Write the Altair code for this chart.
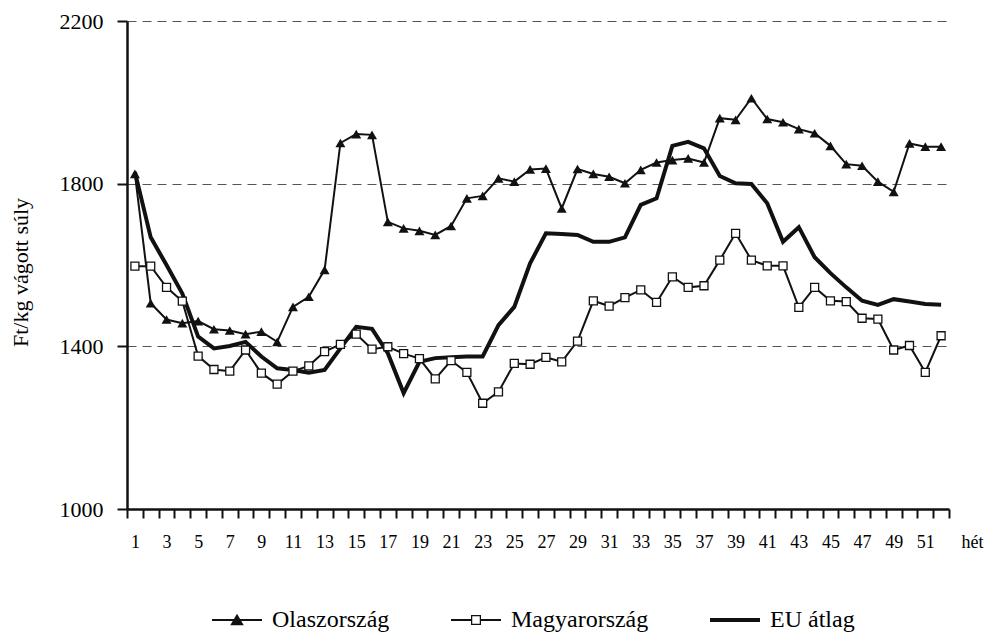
import altair as alt
import pandas as pd

weeks = list(range(1, 53))
series_names = ["Olaszország", "Magyarország", "EU átlag"]

olasz = [1824, 1506, 1466, 1457, 1462, 1442, 1439, 1430, 1436, 1411, 1497, 1522, 1588,
         1900, 1922, 1920, 1706, 1690, 1684, 1674, 1696, 1764, 1770, 1813, 1805, 1835,
         1837, 1739, 1836, 1824, 1817, 1801, 1834, 1852, 1858, 1862, 1852, 1961, 1957,
         2010, 1959, 1951, 1934, 1924, 1893, 1848, 1844, 1805, 1780, 1899, 1891, 1891]
magyar = [1597, 1597, 1545, 1511, 1376, 1343, 1339, 1391, 1334, 1307, 1339, 1352, 1387,
          1405, 1430, 1393, 1399, 1382, 1370, 1320, 1365, 1336, 1260, 1288, 1358, 1356,
          1373, 1362, 1413, 1512, 1499, 1520, 1539, 1508, 1571, 1545, 1549, 1612, 1678,
          1612, 1598, 1598, 1496, 1545, 1512, 1510, 1469, 1467, 1391, 1402, 1336, 1426]
eu = [1829, 1668, 1600, 1530, 1424, 1395, 1401, 1411, 1375, 1346, 1342, 1335, 1342,
      1395, 1448, 1443, 1383, 1285, 1362, 1371, 1373, 1375, 1375, 1452, 1497, 1604,
      1678, 1676, 1674, 1657, 1657, 1668, 1748, 1764, 1893, 1903, 1887, 1819, 1801,
      1799, 1752, 1657, 1693, 1619, 1580, 1545, 1512, 1502, 1516, 1510, 1504, 1502]
y_ticks = [1000, 1400, 1800, 2200]

rows = []
for name, vals in zip(series_names, [olasz, magyar, eu]):
    for w, v in zip(weeks, vals):
        rows.append({"week": w, "value": v, "series": name})
df = pd.DataFrame(rows)

FONT = "Liberation Serif"
W, H = 822, 488
band = W / 52.0

x_enc = alt.X(
    "week:Q",
    scale=alt.Scale(domain=[0.5, 52.5], nice=False, zero=False),
    axis=alt.Axis(
        values=[0.5 + i for i in range(53)],
        labelExpr="((datum.value + 0.5) % 2 == 1 && datum.value < 51) ? format(datum.value + 0.5, 'd') : ''",
        labelOffset=band / 2,
        labelOverlap=False,
        labelFlush=False,
        labelBound=False,
        labelFont=FONT,
        labelFontSize=18,
        labelFontWeight="normal",
        labelColor="black",
        labelPadding=15,
        tickSize=9,
        tickWidth=2,
        tickColor="#111",
        domainColor="#111",
        domainWidth=2.5,
        grid=False,
        title="hét",
        titleFont=FONT,
        titleFontSize=18,
        titleFontWeight="normal",
        titleColor="black",
        titleX=845,
        titleY=24,
        titleAlign="center",
        titleBaseline="top",
    ),
)
y_enc = alt.Y(
    "value:Q",
    scale=alt.Scale(domain=[1000, 2200], nice=False, zero=False),
    axis=alt.Axis(
        values=y_ticks,
        format="d",
        grid=True,
        gridDash=[9, 6],
        gridColor="#555",
        gridWidth=1.2,
        tickSize=10,
        tickWidth=2,
        tickColor="#111",
        domainColor="#111",
        domainWidth=2.5,
        labelFont=FONT,
        labelFontSize=22,
        labelFontWeight="normal",
        labelColor="black",
        labelPadding=14,
        title="Ft/kg vágott súly",
        titleFont=FONT,
        titleFontSize=22,
        titleFontWeight="normal",
        titleColor="black",
        titleAngle=270,
        titleX=-107,
        titleY=251,
        titleAlign="center",
        titleBaseline="middle",
    ),
)

base = alt.Chart(df)

lines = base.mark_line(color="#111", strokeJoin="miter").encode(
    x=x_enc,
    y=y_enc,
    detail="series:N",
    strokeWidth=alt.condition(alt.datum.series == "EU átlag", alt.value(4), alt.value(2)),
    order="week:Q",
)

tri = base.transform_filter(alt.datum.series == "Olaszország").mark_point(
    shape="triangle-up", filled=True, color="#111", size=100, opacity=1
).encode(x=x_enc, y=y_enc)

sq = base.transform_filter(alt.datum.series == "Magyarország").mark_point(
    shape="square", fill="white", stroke="#111", strokeWidth=1.3, size=64, opacity=1
).encode(x=x_enc, y=y_enc)

shape_paths = [
    "M-1,-0.04L1,-0.04L1,0.04L-1,0.04Z M0,-0.25L0.27,0.21L-0.27,0.21Z",
    "M-1,-0.04L-0.2,-0.04L-0.2,0.04L-1,0.04Z M0.2,-0.04L1,-0.04L1,0.04L0.2,0.04Z "
    "M-0.2,-0.2L0.2,-0.2L0.2,0.2L-0.2,0.2Z M-0.15,-0.15L-0.15,0.15L0.15,0.15L0.15,-0.15Z",
    "M-1,-0.08L1,-0.08L1,0.08L-1,0.08Z",
]
leg_props = dict(
    orient="none",
    legendX=85,
    legendY=574,
    direction="horizontal",
    columns=3,
    columnPadding=61,
    title=None,
    padding=0,
    labelFont=FONT,
    labelFontSize=24,
    labelColor="black",
    labelOffset=10,
    labelLimit=400,
    symbolSize=2500,
    symbolStrokeWidth=0,
)
legend_layer = base.transform_filter("false").mark_point(
    filled=True, strokeWidth=0, opacity=1
).encode(
    x=x_enc,
    y=y_enc,
    shape=alt.Shape("series:N", scale=alt.Scale(domain=series_names, range=shape_paths),
                    legend=alt.Legend(**leg_props)),
    fill=alt.Fill("series:N", scale=alt.Scale(domain=series_names, range=["#111", "#111", "#111"]),
                  legend=alt.Legend(**leg_props)),
)

chart = alt.layer(lines, tri, sq, legend_layer).properties(
    width=W,
    height=H,
    autosize=alt.AutoSizeParams(type="none"),
    padding={"left": 119, "top": 13, "right": 47, "bottom": 130},
    background="white",
).configure_view(strokeWidth=0).configure_axis(
    labelFont=FONT, titleFont=FONT
).configure_legend(labelFont=FONT)

chart.save("out.html", embed_options={"renderer": "svg", "actions": False})
